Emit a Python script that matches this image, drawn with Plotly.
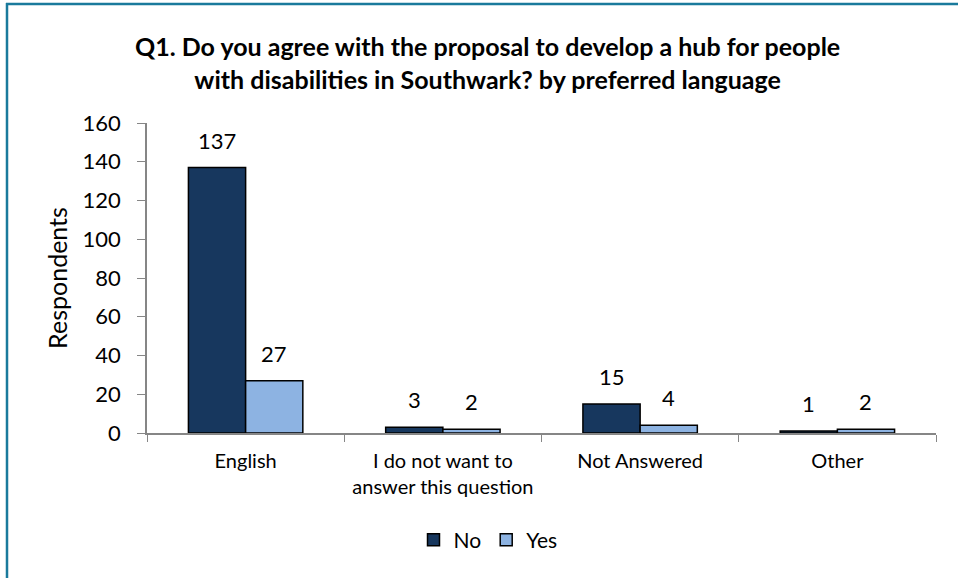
import plotly.graph_objects as go

categories = ["English", "I do not want to<br>answer this question", "Not Answered", "Other"]
no_values = [137, 3, 15, 1]
yes_values = [27, 2, 4, 2]
y_ticks = [0, 20, 40, 60, 80, 100, 120, 140, 160]

FONT = "Lato, 'Open Sans', sans-serif"
W, H = 958, 578
L, R, T, B = 147, 22, 123, 145
pw, ph = W - L - R, H - T - B

def px_x(x):
    return (x - L) / pw

def px_y(y):
    return (H - B - y) / ph

fig = go.Figure()
fig.add_trace(go.Bar(name="No", x=categories, y=no_values,
                     marker=dict(color="#17375E", line=dict(color="black", width=1.5))))
fig.add_trace(go.Bar(name="Yes", x=categories, y=yes_values,
                     marker=dict(color="#8DB3E2", line=dict(color="black", width=1.5))))

annotations = []
for vals, shift in ((no_values, -28.5), (yes_values, 28.5)):
    for c, v in zip(categories, vals):
        annotations.append(dict(x=c, y=v, xref="x", yref="y", text=str(v), showarrow=False,
                                xshift=shift, yshift=12, yanchor="bottom",
                                font=dict(family=FONT, size=22, color="black")))

annotations.append(dict(text="<b>Q1. Do you agree with the proposal to develop a hub for people<br>with disabilities in Southwark? by preferred language</b>",
                        x=px_x(487), y=px_y(63), xref="paper", yref="paper", showarrow=False,
                        xanchor="center", yanchor="middle",
                        font=dict(family=FONT, size=25, color="black")))

fig.update_layout(
    width=W, height=H,
    margin=dict(l=L, r=R, t=T, b=B),
    paper_bgcolor="white", plot_bgcolor="white",
    barmode="group", bargap=0.42, bargroupgap=0,
    font=dict(family=FONT, color="black"),
    annotations=annotations,
    showlegend=True,
    legend=dict(orientation="h", x=px_x(488), y=px_y(540), xanchor="center", yanchor="middle",
                font=dict(family=FONT, size=21, color="black"), itemwidth=30),
    shapes=[
        dict(type="line", xref="paper", yref="paper", x0=px_x(7), x1=px_x(7), y0=px_y(3), y1=px_y(600),
             line=dict(color="#1A7A9C", width=2.5)),
        dict(type="line", xref="paper", yref="paper", x0=px_x(6), x1=px_x(970), y0=px_y(4), y1=px_y(4),
             line=dict(color="#1A7A9C", width=2.5)),
    ],
)
fig.update_xaxes(showline=True, linecolor="#868686", linewidth=1.5, ticks="outside", tickson="boundaries",
                 ticklen=7, tickcolor="#868686", tickfont=dict(family=FONT, size=20, color="black"),
                 ticklabelstandoff=9, showgrid=False)
fig.update_yaxes(range=[0, 160], tickvals=y_ticks, showline=True, linecolor="#868686", linewidth=1.5,
                 ticks="outside", ticklen=8, tickcolor="#868686", showgrid=False, zeroline=False,
                 ticklabelstandoff=12,
                 tickfont=dict(family=FONT, size=22, color="black"),
                 title=dict(text="Respondents", font=dict(family=FONT, size=25, color="black"), standoff=8))

fig.write_html("out.html", config={"displayModeBar": False},
               post_script="document.body.style.margin='0';document.body.style.overflow='hidden';")
